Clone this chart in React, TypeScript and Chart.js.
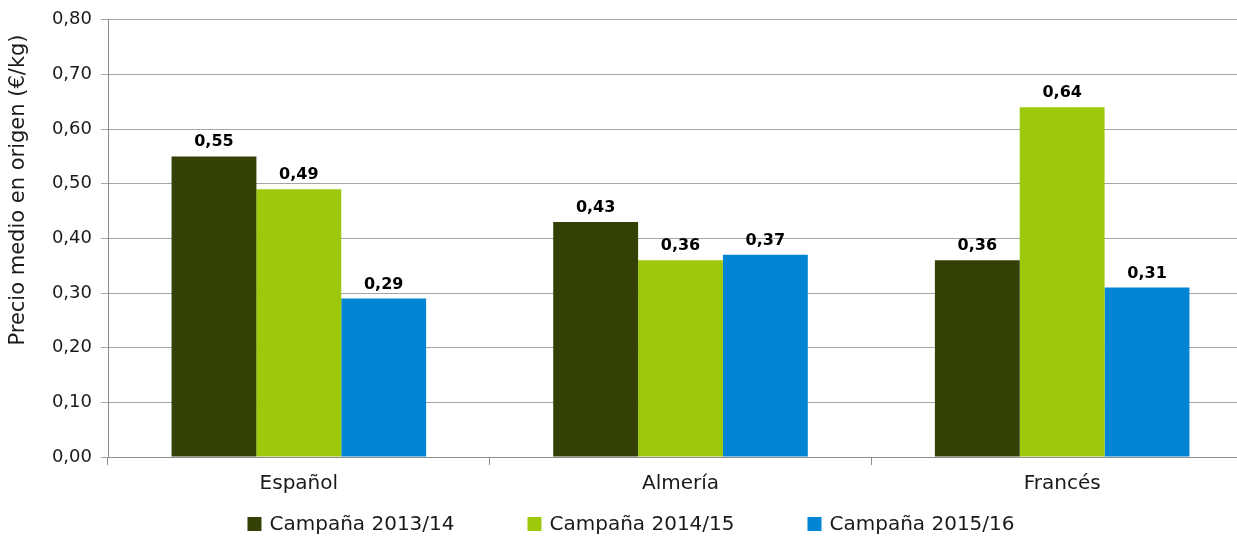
import React, { useEffect, useRef } from "react";
import { Chart, registerables } from "chart.js";

Chart.register(...registerables);

const categories = ["Español", "Almería", "Francés"];
const seriesNames = ["Campaña 2013/14", "Campaña 2014/15", "Campaña 2015/16"];
const values2013 = [0.55, 0.43, 0.36];
const values2014 = [0.49, 0.36, 0.64];
const values2015 = [0.29, 0.37, 0.31];
const colors = ["#334006", "#9DC90A", "#0084D4"];
const yTitle = "Precio medio en origen (€/kg)";

const FONT = "'DejaVu Sans', sans-serif";
const TEXT = "#1a1a1a";
const CANVAS_W = 1262;
const CANVAS_H = 536;

const fmt = (v: number) => v.toFixed(2).replace(".", ",");

const labelPlugin = {
  id: "barLabels",
  afterDatasetsDraw(chart: any) {
    const ctx = chart.ctx;
    ctx.save();
    ctx.font = `bold 16px ${FONT}`;
    ctx.fillStyle = "#000";
    ctx.textAlign = "center";
    ctx.textBaseline = "alphabetic";
    chart.data.datasets.forEach((ds: any, i: number) => {
      const meta = chart.getDatasetMeta(i);
      meta.data.forEach((bar: any, j: number) => {
        ctx.fillText(fmt(ds.data[j]), bar.x, bar.y - 10);
      });
    });
    ctx.restore();
  },
};

const titlePlugin = {
  id: "yTitle",
  afterDraw(chart: any) {
    const ctx = chart.ctx;
    ctx.save();
    ctx.font = `21px ${FONT}`;
    ctx.fillStyle = TEXT;
    ctx.textAlign = "center";
    ctx.textBaseline = "middle";
    ctx.translate(19, 190);
    ctx.rotate(-Math.PI / 2);
    ctx.fillText(yTitle, 0, 0);
    ctx.restore();
  },
};

const legendPlugin = {
  id: "customLegend",
  afterDraw(chart: any) {
    const ctx = chart.ctx;
    ctx.save();
    ctx.font = `20px ${FONT}`;
    ctx.textBaseline = "middle";
    ctx.textAlign = "left";
    const step = 280;
    const box = 14;
    const gap = 8;
    const n = chart.data.datasets.length;
    const lastW = box + gap + ctx.measureText(chart.data.datasets[n - 1].label).width;
    const total = step * (n - 1) + lastW;
    let x = chart.width / 2 - total / 2;
    const y = 524;
    chart.data.datasets.forEach((ds: any) => {
      ctx.fillStyle = ds.backgroundColor;
      ctx.fillRect(x, y - box / 2, box, box);
      ctx.fillStyle = TEXT;
      ctx.fillText(ds.label, x + box + gap, y + 1);
      x += step;
    });
    ctx.restore();
  },
};

export default function App() {
  const ref = useRef<HTMLCanvasElement>(null);
  useEffect(() => {
    document.body.style.margin = "0";
    const chart = new Chart(ref.current!, {
      type: "bar",
      data: {
        labels: categories,
        datasets: [values2013, values2014, values2015].map((d, i) => ({
          label: seriesNames[i],
          data: d,
          backgroundColor: colors[i],
          borderWidth: 0,
          categoryPercentage: 0.667,
          barPercentage: 1,
        })),
      },
      options: {
        animation: false,
        responsive: false,
        maintainAspectRatio: false,
        layout: { padding: { top: 18, right: 9, left: 0, bottom: 36 } },
        plugins: {
          legend: { display: false },
          tooltip: { enabled: false },
        },
        scales: {
          x: {
            grid: {
              display: true,
              drawOnChartArea: false,
              drawTicks: true,
              tickLength: 8,
              color: "#8C8C8C",
              offset: true,
            },
            border: { color: "#8C8C8C" },
            ticks: { font: { family: FONT, size: 20 }, color: TEXT, padding: 7 },
            afterFit: (s: any) => {
              s.height = 43;
            },
          },
          y: {
            min: 0,
            max: 0.8,
            ticks: {
              stepSize: 0.1,
              font: { family: FONT, size: 18 },
              color: TEXT,
              padding: 9,
              callback: (v: any) => fmt(Number(v)),
            },
            grid: { color: "#A6A6A6", tickLength: 7, drawTicks: true },
            border: { color: "#8C8C8C" },
            afterFit: (s: any) => {
              s.width = 108;
            },
          },
        },
      },
      plugins: [labelPlugin, titlePlugin, legendPlugin],
    });
    return () => chart.destroy();
  }, []);
  return (
    <div style={{ width: 1237, height: CANVAS_H, overflow: "hidden" }}>
      <canvas
        ref={ref}
        width={CANVAS_W}
        height={CANVAS_H}
        style={{ width: CANVAS_W, height: CANVAS_H, display: "block" }}
      />
    </div>
  );
}
